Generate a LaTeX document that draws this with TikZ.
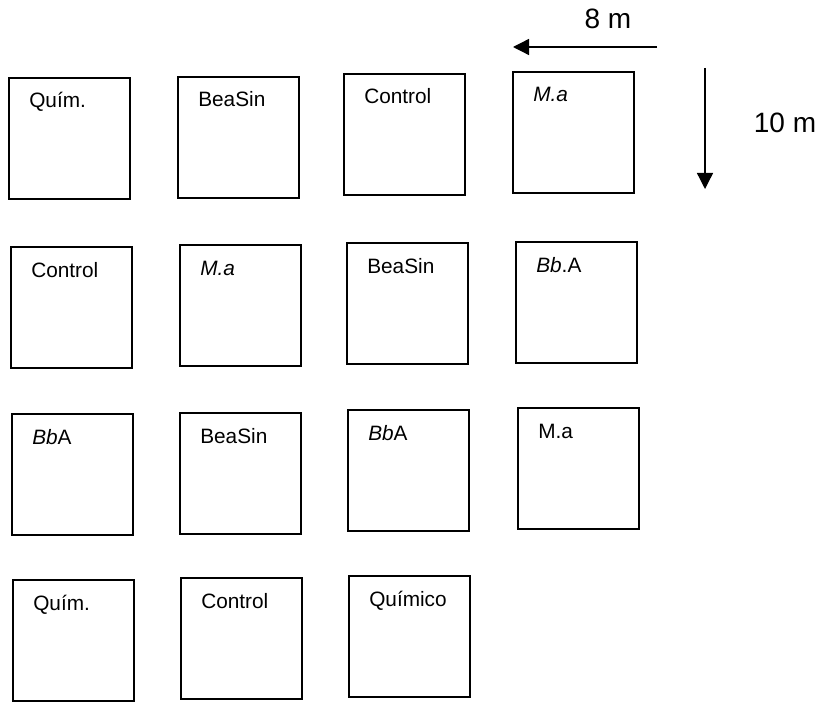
\documentclass[tikz,border=0pt]{standalone}
\usepackage{fontspec}
\setmainfont{Liberation Sans}
\usetikzlibrary{arrows.meta,calc}
\newcommand\plotbox[4]{%
  \node[plotsq] (#1) at (#2,#3) {};
  \node[lbl] (#1t) at ($(#1.north west)+(21,31)$) {#4};}
\begin{document}
\begin{tikzpicture}[x=0.75pt,y=-0.75pt,
  plotsq/.style={draw, line width=1.4pt, minimum width=90.75pt, minimum height=91pt, inner sep=0pt, anchor=north west},
  lbl/.style={inner sep=0pt, anchor=base west, font=\fontsize{15.6pt}{18pt}\selectfont},
  dimlbl/.style={inner sep=0pt, anchor=base, font=\fontsize{21pt}{25pt}\selectfont},
  arr/.style={line width=1pt, -{Triangle[length=12pt,width=12pt]}}]
\useasboundingbox (0,0) rectangle (823,702);
% row 1
\plotbox{b11}{8}{77}{Quím.}
\plotbox{b12}{177}{76}{BeaSin}
\plotbox{b13}{343}{73}{Control}
\plotbox{b14}{512}{71}{\itshape M.a}
% row 2
\plotbox{b21}{10}{246}{Control}
\plotbox{b22}{179}{244}{\itshape M.a}
\plotbox{b23}{346}{242}{BeaSin}
\plotbox{b24}{515}{241}{\textit{Bb}.A}
% row 3
\plotbox{b31}{11}{413}{\textit{Bb}A}
\plotbox{b32}{179}{412}{BeaSin}
\plotbox{b33}{347}{409}{\textit{Bb}A}
\plotbox{b34}{517}{407}{M.a}
% row 4
\plotbox{b41}{12}{579}{Quím.}
\plotbox{b42}{180}{577}{Control}
\plotbox{b43}{348}{575}{Químico}
% dimension arrows
\coordinate (hs) at (657,47);
\coordinate (he) at (513,47);
\draw[arr] (hs) -- (he);
\node[dimlbl] (hl) at (608,29) {8 m};
\coordinate (vs) at (705,68);
\coordinate (ve) at (705,189);
\draw[arr] (vs) -- (ve);
\node[dimlbl] (vl) at (785,133) {10 m};
\end{tikzpicture}
\end{document}
